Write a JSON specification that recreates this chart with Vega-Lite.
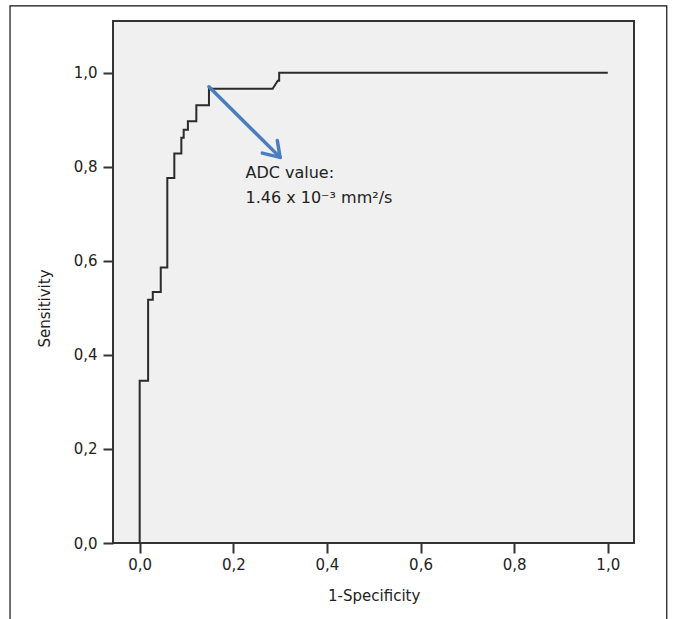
{
  "$schema": "https://vega.github.io/schema/vega-lite/v6.json",
  "autosize": {"type": "none"},
  "width": 521,
  "height": 522,
  "padding": {"left": 113, "top": 21, "right": 39, "bottom": 76},
  "background": "white",
  "config": {
    "view": {"fill": "#f0f0f0", "stroke": "#333333", "strokeWidth": 2},
    "font": "DejaVu Sans",
    "axis": {
      "domain": false,
      "grid": false,
      "ticks": true,
      "tickColor": "#333333",
      "tickWidth": 2,
      "tickSize": 10,
      "labelFont": "DejaVu Sans",
      "labelFontSize": 15,
      "labelColor": "#222222",
      "titleFont": "DejaVu Sans",
      "titleFontSize": 15,
      "titleFontWeight": "normal",
      "titleColor": "#222222"
    }
  },
  "datasets": {
    "roc": [
      {"fpr": 0, "sens": 0},
      {"fpr": 0, "sens": 0.345},
      {"fpr": 0.018, "sens": 0.345},
      {"fpr": 0.018, "sens": 0.517},
      {"fpr": 0.028, "sens": 0.517},
      {"fpr": 0.028, "sens": 0.534},
      {"fpr": 0.045, "sens": 0.534},
      {"fpr": 0.045, "sens": 0.586},
      {"fpr": 0.059, "sens": 0.586},
      {"fpr": 0.059, "sens": 0.776},
      {"fpr": 0.074, "sens": 0.776},
      {"fpr": 0.074, "sens": 0.828},
      {"fpr": 0.089, "sens": 0.828},
      {"fpr": 0.089, "sens": 0.862},
      {"fpr": 0.094, "sens": 0.862},
      {"fpr": 0.094, "sens": 0.879},
      {"fpr": 0.103, "sens": 0.879},
      {"fpr": 0.103, "sens": 0.897},
      {"fpr": 0.121, "sens": 0.897},
      {"fpr": 0.121, "sens": 0.931},
      {"fpr": 0.148, "sens": 0.931},
      {"fpr": 0.148, "sens": 0.966},
      {"fpr": 0.284, "sens": 0.966},
      {"fpr": 0.295, "sens": 0.983},
      {"fpr": 0.298, "sens": 0.983},
      {"fpr": 0.298, "sens": 1.0},
      {"fpr": 1.0, "sens": 1.0}
    ],
    "arrow": [
      {"x": 0.148, "y": 0.970, "x2": 0.300, "y2": 0.820},
      {"x": 0.294, "y": 0.856, "x2": 0.300, "y2": 0.820},
      {"x": 0.262, "y": 0.829, "x2": 0.300, "y2": 0.820}
    ],
    "notes": [
      {"x": 0.226, "y": 0.776, "label": "ADC value:"},
      {"x": 0.226, "y": 0.724, "label": "1.46 x 10⁻³ mm²/s"}
    ]
  },
  "layer": [
    {
      "data": {"name": "roc"},
      "mark": {"type": "line", "color": "#2b2b2b", "strokeWidth": 2, "interpolate": "linear"},
      "encoding": {
        "x": {
          "field": "fpr", "type": "quantitative",
          "scale": {"domain": [-0.057, 1.056], "nice": false, "zero": false},
          "axis": {
            "title": "1-Specificity",
            "values": [0, 0.2, 0.4, 0.6, 0.8, 1.0],
            "labelExpr": "replace(format(datum.value, '.1f'), '.', ',')",
            "labelPadding": 4,
            "titleX": 260.7,
            "titleY": 52,
            "titleBaseline": "middle",
            "titleAlign": "center"
          }
        },
        "y": {
          "field": "sens", "type": "quantitative",
          "scale": {"domain": [0, 1.11], "nice": false, "zero": false},
          "axis": {
            "title": "Sensitivity",
            "values": [0, 0.2, 0.4, 0.6, 0.8, 1.0],
            "labelExpr": "replace(format(datum.value, '.1f'), '.', ',')",
            "labelPadding": 6,
            "titleX": -69,
            "titleY": 287,
            "titleAngle": -90,
            "titleBaseline": "middle",
            "titleAlign": "center"
          }
        },
        "order": {"value": 0}
      }
    },
    {
      "data": {"name": "arrow"},
      "mark": {"type": "rule", "color": "#4a7dbf", "strokeWidth": 3.5, "strokeCap": "round"},
      "encoding": {
        "x": {"field": "x", "type": "quantitative"},
        "y": {"field": "y", "type": "quantitative"},
        "x2": {"field": "x2"},
        "y2": {"field": "y2"}
      }
    },
    {
      "data": {"name": "notes"},
      "mark": {"type": "text", "align": "left", "baseline": "alphabetic", "font": "DejaVu Sans", "fontSize": 16, "color": "#222222"},
      "encoding": {
        "x": {"field": "x", "type": "quantitative"},
        "y": {"field": "y", "type": "quantitative"},
        "text": {"field": "label"}
      }
    },
    {
      "data": {"values": [{}]},
      "mark": {"type": "rect", "fill": null, "stroke": "#111111", "strokeWidth": 1.2, "clip": false},
      "encoding": {
        "x": {"datum": -0.277, "type": "quantitative"},
        "x2": {"datum": 1.126},
        "y": {"datum": 1.142, "type": "quantitative"},
        "y2": {"datum": -0.2}
      }
    }
  ]
}
